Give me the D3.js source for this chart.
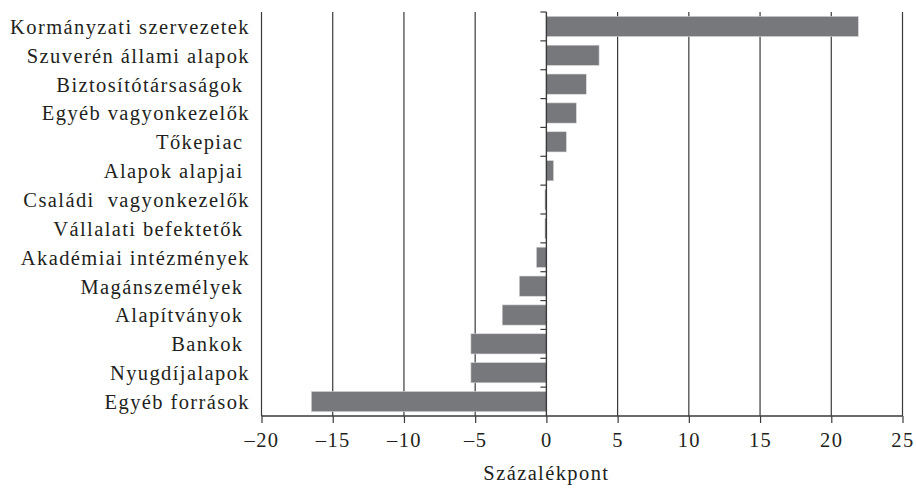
<!DOCTYPE html>
<html>
<head>
<meta charset="utf-8">
<script src="https://cdn.jsdelivr.net/npm/d3@7"></script>
</head>
<body style="margin:0;background:#fff">
<svg id="chart"></svg>
<script>
// categories top to bottom (trailing spaces kept as in the original)
var categories = [
  "Kormányzati szervezetek",
  "Szuverén állami alapok",
  "Biztosítótársaságok ",
  "Egyéb vagyonkezelők",
  "Tőkepiac ",
  "Alapok alapjai ",
  "Családi  vagyonkezelők",
  "Vállalati befektetők ",
  "Akadémiai intézmények",
  "Magánszemélyek ",
  "Alapítványok ",
  "Bankok ",
  "Nyugdíjalapok",
  "Egyéb források"
];
var values = [21.9, 3.7, 2.8, 2.1, 1.4, 0.5, -0.1, -0.1, -0.7, -1.9, -3.1, -5.3, -5.3, -16.5];
var xTicks = [-20, -15, -10, -5, 0, 5, 10, 15, 20, 25];
var xTitle = "Százalékpont";

var width = 916, height = 488;
var margin = {top: 12, right: 13.5, bottom: 72, left: 261.5};
var txtColor = "#231f20";
var lineColor = "#3a3a3a";

var svg = d3.select("#chart")
    .attr("width", width)
    .attr("height", height)
    .attr("font-family", "Liberation Serif");

var x = d3.scaleLinear()
    .domain([-20, 25])
    .range([margin.left, width - margin.right]);

var y = d3.scaleBand()
    .domain(d3.range(categories.length))
    .range([margin.top, height - margin.bottom])
    .paddingInner(0.3)
    .paddingOuter(0.15);

// category boundaries for the ticks on the zero axis
var yEdges = d3.scaleLinear()
    .domain([0, categories.length])
    .range([margin.top, height - margin.bottom]);

function styleText(sel) {
  sel.attr("font-family", "Liberation Serif")
     .attr("font-size", 20.5)
     .attr("letter-spacing", 1.4)
     .attr("xml:space", "preserve")
     .attr("fill", txtColor);
}

// vertical gridlines
svg.append("g")
  .selectAll("line")
  .data(xTicks.filter(function(d) { return d !== 0; }))
  .enter().append("line")
    .attr("x1", function(d) { return x(d); })
    .attr("x2", function(d) { return x(d); })
    .attr("y1", margin.top)
    .attr("y2", height - margin.bottom)
    .attr("stroke", lineColor)
    .attr("stroke-width", 1.2);

// bars
svg.append("g")
  .selectAll("rect")
  .data(values)
  .enter().append("rect")
    .attr("x", function(d) { return x(Math.min(0, d)); })
    .attr("width", function(d) { return Math.max(1, Math.abs(x(d) - x(0))); })
    .attr("y", function(d, i) { return y(i); })
    .attr("height", y.bandwidth())
    .attr("fill", "#77787b")
    .attr("stroke", "#d6d6d6")
    .attr("stroke-width", 0.6);

// zero axis
svg.append("line")
    .attr("x1", x(0)).attr("x2", x(0))
    .attr("y1", margin.top).attr("y2", height - margin.bottom)
    .attr("stroke", lineColor)
    .attr("stroke-width", 1.4);

svg.append("g")
  .selectAll("line")
  .data(d3.range(categories.length))
  .enter().append("line")
    .attr("x1", x(0) - 6)
    .attr("x2", x(0))
    .attr("y1", function(d) { return yEdges(d); })
    .attr("y2", function(d) { return yEdges(d); })
    .attr("stroke", lineColor)
    .attr("stroke-width", 1.2);

// category labels
svg.append("g")
  .selectAll("text")
  .data(categories)
  .enter().append("text")
    .attr("x", 250)
    .attr("y", function(d, i) { return y(i) + y.bandwidth() / 2; })
    .attr("dy", "0.36em")
    .attr("text-anchor", "end")
    .text(function(d) { return d; })
    .call(styleText);

// bottom axis
var xAxis = svg.append("g")
    .attr("transform", "translate(0," + (height - margin.bottom) + ")")
    .call(d3.axisBottom(x)
      .tickValues(xTicks)
      .tickSize(7)
      .tickPadding(9)
      .tickFormat(function(d) { return d < 0 ? "\u2013" + Math.abs(d) : d; }));

xAxis.attr("font-family", "Liberation Serif");
xAxis.select(".domain")
    .attr("stroke", lineColor)
    .attr("stroke-width", 1.4)
    .attr("d", "M" + x(-20) + ",0H" + x(25));
xAxis.selectAll(".tick line")
    .attr("stroke", lineColor)
    .attr("stroke-width", 1.2);
xAxis.selectAll(".tick text")
    .call(styleText);

svg.append("text")
    .attr("x", x(0))
    .attr("y", 480)
    .attr("text-anchor", "middle")
    .text(xTitle)
    .call(styleText);
</script>
</body>
</html>
